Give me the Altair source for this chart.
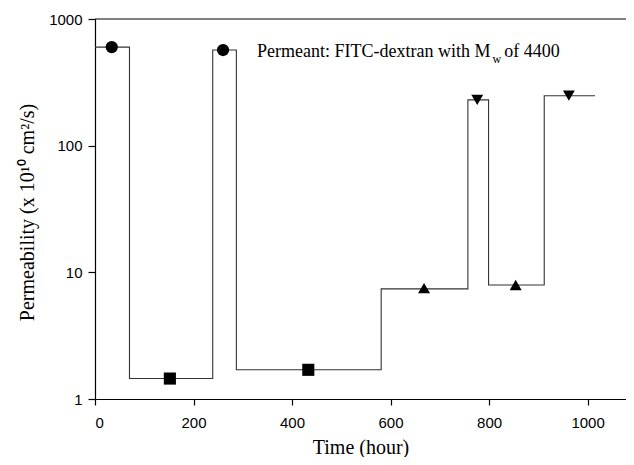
import altair as alt
import pandas as pd

# Step line breakpoints (hours) and permeability values
step_time = [0, 70, 239, 287, 581, 757, 799, 912, 1015]
step_perm = [600, 1.45, 569, 1.7, 7.4, 230, 7.95, 248, 248]

# Marker points
pt_time = [34, 260, 152, 433, 668, 854, 776, 962]
pt_perm = [600, 569, 1.45, 1.7, 7.5, 7.95, 230, 248]
pt_group = ["c", "c", "s", "s", "tu", "tu", "td", "td"]

x_ticks = [0, 200, 400, 600, 800, 1000]
y_ticks = [1, 10, 100, 1000]

W, H = 531, 380

step_df = pd.DataFrame({"t": step_time, "p": step_perm})
pt_df = pd.DataFrame({"t": pt_time, "p": pt_perm, "g": pt_group})

xscale = alt.Scale(domain=[0, 1078], nice=False, zero=False)
yscale = alt.Scale(type="log", domain=[1, 1000], nice=False)

xaxis = alt.Axis(values=x_ticks, title="Time (hour)", grid=False, format="d",
                 labelFont="Liberation Sans", labelFontSize=15, labelColor="black",
                 labelPadding=10, tickSize=6, tickColor="black", domainColor="black",
                 domainWidth=1.2, tickWidth=1.2,
                 titleFont="Liberation Serif", titleFontSize=20, titleFontWeight="normal",
                 titleColor="black", titleX=W / 2, titleY=54, titleBaseline="alphabetic")
yaxis = alt.Axis(values=y_ticks, title="Permeability (x 10¹⁰ cm²/s)", grid=False,
                 labelExpr="format(datum.value, 'd')",
                 labelFont="Liberation Sans", labelFontSize=15, labelColor="black",
                 labelPadding=6, tickSize=7, tickColor="black", domainColor="black",
                 domainWidth=1.2, tickWidth=1.2,
                 titleFont="Liberation Serif", titleFontSize=20, titleFontWeight="normal",
                 titleColor="black", titleX=-62, titleY=193, titleBaseline="alphabetic",
                 titleAngle=270, titleAlign="center")

line = alt.Chart(step_df).mark_line(interpolate="step-after", color="#333333",
                                    strokeWidth=1.1).encode(
    x=alt.X("t:Q", scale=xscale, axis=xaxis),
    y=alt.Y("p:Q", scale=yscale, axis=yaxis),
)

points = alt.Chart(pt_df).mark_point(filled=True, color="black", opacity=1).encode(
    x=alt.X("t:Q", scale=xscale),
    y=alt.Y("p:Q", scale=yscale),
    shape=alt.Shape("g:N", scale=alt.Scale(domain=["c", "s", "tu", "td"],
                                           range=["circle", "square", "triangle-up", "triangle-down"]),
                    legend=None),
    size=alt.Size("g:N", scale=alt.Scale(domain=["c", "s", "tu", "td"],
                                         range=[150, 140, 320, 320]),
                  legend=None),
)

top = alt.Chart(pd.DataFrame({"p": [1000]})).mark_rule(color="black", strokeWidth=1.2).encode(
    y=alt.Y("p:Q", scale=yscale),
    x=alt.value(0), x2=alt.value(W),
)

ann_main = alt.Chart(pd.DataFrame({"t": [329], "p": [504], "s": ["Permeant: FITC-dextran with M"]})).mark_text(
    align="left", baseline="alphabetic", font="Liberation Serif", fontSize=18, color="black"
).encode(x=alt.X("t:Q", scale=xscale), y=alt.Y("p:Q", scale=yscale), text="s:N")

ann_sub = alt.Chart(pd.DataFrame({"t": [807], "p": [452], "s": ["w"]})).mark_text(
    align="left", baseline="alphabetic", font="Liberation Serif", fontSize=12, color="black"
).encode(x=alt.X("t:Q", scale=xscale), y=alt.Y("p:Q", scale=yscale), text="s:N")

ann_end = alt.Chart(pd.DataFrame({"t": [831], "p": [504], "s": ["of 4400"]})).mark_text(
    align="left", baseline="alphabetic", font="Liberation Serif", fontSize=18, color="black"
).encode(x=alt.X("t:Q", scale=xscale), y=alt.Y("p:Q", scale=yscale), text="s:N")

chart = alt.layer(top, line, points, ann_main, ann_sub, ann_end).properties(
    width=W, height=H,
    autosize=alt.AutoSizeParams(type="none"),
    padding={"left": 87, "top": 11, "right": 0, "bottom": 58},
).configure_view(stroke=None)

chart.save("out.html", embed_options={"renderer": "svg", "actions": False})
